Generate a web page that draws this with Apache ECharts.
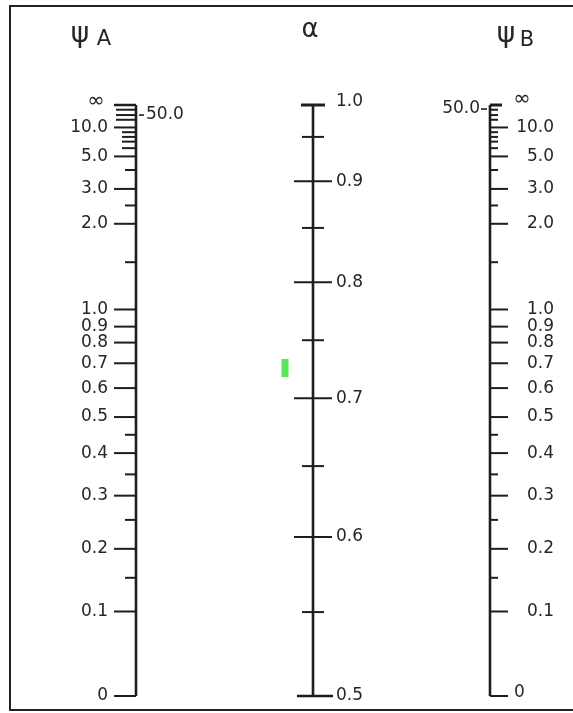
<!DOCTYPE html>
<html><head><meta charset="utf-8">
<script src="https://cdn.jsdelivr.net/npm/echarts@6/dist/echarts.min.js"></script>
<style>html,body{margin:0;padding:0;background:#fff}#c{width:573px;height:713px}</style>
</head><body><div id="c"></div>
<script>
// Nomograph scales: ψA (left), α (middle), ψB (right)
const scales = ['ψA', 'α', 'ψB'];
// ψ scale (same on ψA and ψB): labelled ticks and their nomograph position (0 = bottom, 1 = top)
const psiMajorLabels = ['0', '0.1', '0.2', '0.3', '0.4', '0.5', '0.6', '0.7', '0.8', '0.9', '1.0', '2.0', '3.0', '5.0', '10.0', '∞'];
const psiMajorPos    = [0, 0.143, 0.249, 0.339, 0.411, 0.472, 0.521, 0.563, 0.598, 0.625, 0.654, 0.799, 0.858, 0.913, 0.962, 1.0];
// ψ unlabelled ticks
const psiMinorValues = [0.15, 0.25, 0.35, 0.45, 1.5, 2.5, 4, 6, 7, 8, 9, 20, 50, 100];
const psiMinorPos    = [0.200, 0.298, 0.375, 0.442, 0.734, 0.830, 0.890, 0.927, 0.938, 0.946, 0.954, 0.975, 0.983, 0.992];
const psiSideLabel = '50.0';   // printed beside the 50 tick
// α scale
const alphaMajorLabels = ['0.5', '0.6', '0.7', '0.8', '0.9', '1.0'];
const alphaMajorPos    = [0, 0.269, 0.504, 0.700, 0.871, 1.0];
const alphaMinorValues = [0.55, 0.65, 0.75, 0.85, 0.95];
const alphaMinorPos    = [0.142, 0.389, 0.602, 0.792, 0.946];
// green marker beside the α scale (position on the scale)
const markerPos = [0.555];

const FONT = '"DejaVu Sans", sans-serif';
const INK = '#1e1e1e';
const TXT = '#262626';

// build tick list
const ticks = [];
[0, 2].forEach(s => {
  psiMajorLabels.forEach((l, i) => ticks.push({s, pos: psiMajorPos[i], major: true, label: l}));
  psiMinorValues.forEach((v, i) => ticks.push({s, pos: psiMinorPos[i], major: false, val: v,
    label: v === 50 ? psiSideLabel : ''}));
});
alphaMajorLabels.forEach((l, i) => ticks.push({s: 1, pos: alphaMajorPos[i], major: true, label: l}));
alphaMinorValues.forEach((v, i) => ticks.push({s: 1, pos: alphaMinorPos[i], major: false, val: v, label: ''}));

function txt(x, y, text, align, size) {
  return {type: 'text', x, y, style: {text, font: (size || 17) + 'px ' + FONT, fill: TXT, align, verticalAlign: 'middle'}};
}
function seg(x1, y1, x2, y2, w) {
  return {type: 'line', shape: {x1, y1, x2, y2}, style: {stroke: INK, lineWidth: w || 2}};
}

function renderTick(params, api) {
  const t = ticks[params.dataIndex];
  const p = api.coord([t.s, t.pos]);
  const x = p[0], y = p[1];
  const ch = [];
  if (t.s === 0) {
    let len = t.major ? 22 : (t.val >= 20 ? 20 : (t.val > 5 && t.val < 10 ? 14 : 11));
    ch.push(seg(x - len, y, x, y, t.label === '∞' ? 2.5 : 2));
    if (t.major) {
      if (t.label === '∞') ch.push(txt(x - 40, y - 3, t.label, 'center', 21));
      else ch.push(txt(x - 28, y, t.label, 'right'));
    } else if (t.label) {
      ch.push(seg(x + 3, y, x + 8, y, 1.6));
      ch.push(txt(x + 10, y, t.label, 'left'));
    }
  } else if (t.s === 2) {
    if (t.label === '∞') {
      ch.push(seg(x, y, x + 12, y, 3));
      ch.push(txt(x + 32, y - 5, t.label, 'center', 21));
    } else if (t.major) {
      ch.push(seg(x, y, x + 18, y, 2));
      if (t.label === '0') ch.push(txt(x + 24, y - 3, t.label, 'left'));
      else ch.push(txt(x + 64, y, t.label, 'right'));
    } else {
      ch.push(seg(x, y, x + 8, y, 2));
      if (t.label) {
        ch.push(seg(x - 9, y - 6, x - 3, y - 6, 1.6));
        ch.push(txt(x - 10, y - 6, t.label, 'right'));
      }
    }
  } else {
    if (t.label === '1.0') {
      ch.push(seg(x - 12, y, x + 12, y, 3));
      ch.push(txt(x + 23, y - 3, t.label, 'left'));
    } else if (t.label === '0.5') {
      ch.push(seg(x - 16, y, x + 20, y, 2.5));
      ch.push(txt(x + 23, y, t.label, 'left'));
    } else if (t.major) {
      ch.push(seg(x - 19, y, x + 19, y, 2));
      ch.push(txt(x + 23, y, t.label, 'left'));
    } else {
      ch.push(seg(x - 11, y, x + 11, y, 2));
    }
  }
  return {type: 'group', children: ch};
}

const spineSeries = scales.map((name, s) => ({
  type: 'line', name, data: [[s, 0], [s, 1]], symbol: 'none', silent: true,
  lineStyle: {color: INK, width: 2.6}, z: 3
}));

const chart = echarts.init(document.getElementById('c'), null, {renderer: 'canvas'});
chart.setOption({
  animation: false,
  backgroundColor: '#fff',
  grid: {left: 136, right: 83, top: 105, bottom: 17},
  xAxis: {type: 'category', data: scales, boundaryGap: false, show: false},
  yAxis: {type: 'value', min: 0, max: 1, show: false},
  series: spineSeries.concat([
    {
      type: 'custom', name: 'ticks', renderItem: renderTick, clip: false, z: 4,
      data: ticks.map(t => [t.s, t.pos])
    },
    {
      type: 'scatter', name: 'marker', symbol: 'rect', symbolSize: [7, 18], symbolOffset: [-28, 0],
      itemStyle: {color: '#2fe02f'}, data: markerPos.map(p => [1, p]), z: 5
    }
  ]),
  graphic: [
    {type: 'rect', shape: {x: 10, y: 6, width: 600, height: 704}, style: {fill: 'none', stroke: '#222', lineWidth: 2}},
    {type: 'text', x: 80, y: 35, style: {text: 'ψ', font: '28px ' + FONT, fill: TXT, align: 'center', verticalAlign: 'middle'}},
    {type: 'text', x: 104, y: 40, style: {text: 'A', font: '21px ' + FONT, fill: TXT, align: 'center', verticalAlign: 'middle'}},
    {type: 'text', x: 310, y: 30, style: {text: 'α', font: '26px ' + FONT, fill: TXT, align: 'center', verticalAlign: 'middle'}},
    {type: 'text', x: 506, y: 35, style: {text: 'ψ', font: '28px ' + FONT, fill: TXT, align: 'center', verticalAlign: 'middle'}},
    {type: 'text', x: 527, y: 41, style: {text: 'B', font: '21px ' + FONT, fill: TXT, align: 'center', verticalAlign: 'middle'}}
  ]
});
</script>
</body></html>
